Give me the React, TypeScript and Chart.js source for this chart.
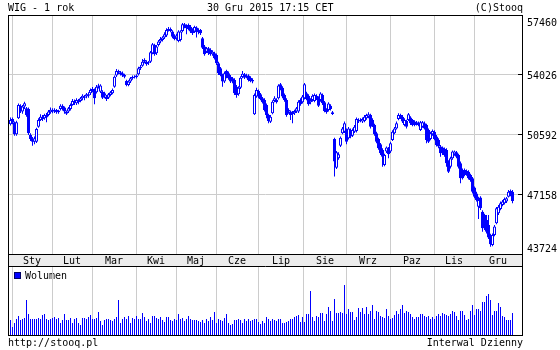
import { useEffect, useRef } from "react";
import { Chart, registerables } from "chart.js";
Chart.register(...registerables);

const title = "WIG - 1 rok";
const dateText = "30 Gru 2015 17:15 CET";
const copyright = "(C)Stooq";
const footerLeft = "http://stooq.pl";
const footerRight = "Interwal Dzienny";
const volumeLabel = "Wolumen";
const monthLabels = ["Sty", "Lut", "Mar", "Kwi", "Maj", "Cze", "Lip", "Sie", "Wrz", "Paz", "Lis", "Gru"];
// index of the first trading day of each month (index 0 = 30 Dec 2014)
const monthStarts = [1, 21, 41, 63, 83, 103, 124, 147, 168, 190, 212, 232];
const yTickValues = [57460, 54026, 50592, 47158, 43724];

const opens = [
  51160,51470,51280,50590,51510,52230,51890,52180,52080,52040,
  50550,50320,50170,50170,51030,51410,51600,51510,51700,51700,
  51850,52000,51890,51980,51850,52040,52230,52120,51890,51890,
  52040,52270,52500,52370,52500,52500,52650,52750,52750,52880,
  52940,53190,53130,53000,53320,53030,53030,52940,52750,52690,
  52840,52940,53320,53950,54220,54140,54080,53990,53640,53420,
  53610,53800,53870,53850,54030,54370,54520,54750,54750,54660,
  54750,55230,55700,55230,55700,55900,55990,56130,56240,56560,
  56620,56470,56240,56090,55930,55990,56510,56890,56810,56850,
  56750,56560,56470,56700,56560,56560,56090,55610,55320,55510,
  55420,55170,55230,55130,54660,54370,53990,53610,54220,54080,
  53890,53800,53700,53320,52880,53260,53870,54030,53890,53950,
  53830,53700,51740,52750,53070,52880,52650,52560,52270,51700,
  51310,51790,52500,52560,52650,53450,53260,52840,52560,51890,
  51890,51850,51790,51890,51890,52560,52420,52650,52940,52800,
  52420,52560,52500,52800,52690,52560,52840,52420,51980,51980,
  52230,51850,50320,48680,49220,49940,50650,50740,50840,50360,
  50840,50510,50740,50780,51410,51350,51320,51350,51510,51600,
  51700,51410,51130,50650,50320,50020,49690,48840,49600,49790,
  49600,50270,50650,50930,51470,51700,51600,51130,51350,51410,
  51550,51410,51320,51280,51220,50840,51030,51220,51130,50840,
  50320,50590,50740,50460,50270,49890,49830,49750,49690,49030,
  48740,49220,49450,49560,49410,48930,48550,48550,48490,48450,
  48260,48070,47540,47210,46450,46970,46160,45970,45690,45400,
  44830,44260,44830,45500,46070,46320,46550,46640,46740,47020,
  47350,47310,
];
const closes = [
  51410,51280,50590,51280,52270,51890,52180,52370,51700,50650,
  50320,50170,50360,50900,51410,51600,51470,51700,51550,51890,
  52000,51890,51980,51850,51960,52230,52080,51890,51770,52080,
  52270,52500,52370,52560,52420,52650,52800,52690,52880,52800,
  53130,53110,52650,53320,53380,53380,52690,52800,52610,52880,
  53000,53130,53890,54220,54140,54030,53950,53890,53420,53610,
  53800,53870,53890,53950,54370,54460,54750,54850,54600,54710,
  55290,55740,55170,55610,55900,56050,56130,56320,56560,56620,
  56510,56180,56050,56240,56470,56470,56890,56730,56660,56620,
  56470,56370,56730,56430,56430,56370,55550,55170,55510,55230,
  55170,55320,54940,54660,54080,53990,53610,54080,53890,53800,
  53610,53610,52940,52840,53260,53830,54060,53830,53950,53700,
  53640,53610,52840,53130,52750,52610,52420,51980,51700,51350,
  51600,52460,52650,52420,53380,53190,52750,52560,51700,51980,
  51700,51740,51930,52080,52460,52310,52750,53450,52610,52310,
  52560,52800,52840,52650,52230,52920,52370,51930,51850,52350,
  52040,51760,49030,49560,49450,50400,50930,51220,50170,50930,
  50460,50840,51030,51470,51320,51430,51470,51600,51700,51740,
  51030,51090,50590,50170,49790,49500,49310,49410,49830,49450,
  50080,50740,50930,51220,51700,51550,51320,51410,51030,51740,
  51220,51130,51130,51160,51130,51280,51280,50930,50270,50170,
  50650,50780,50320,49980,49890,49500,49500,49410,48930,48450,
  49220,49600,49600,49310,48740,48070,48070,48260,48300,48070,
  47980,47310,47020,46830,46830,46360,45210,45210,45020,44680,
  44300,44830,45310,46360,46450,46640,46740,46890,46930,47310,
  47120,46780,
];
const highs = [
  51550,51550,51330,51360,52350,52310,52270,52460,52160,52120,
  50650,50440,50470,50970,51510,51740,51700,51770,51810,51980,
  52120,52080,52080,52040,52000,52310,52310,52180,51960,52160,
  52350,52610,52580,52650,52610,52730,52880,52840,52960,53000,
  53220,53300,53220,53420,53490,53450,53110,53030,52840,52960,
  53070,53220,53950,54330,54290,54220,54180,54060,53720,53680,
  53870,53950,53970,54030,54460,54560,54900,54940,54830,54790,
  55360,55820,55780,55700,55990,56160,56200,56430,56660,56730,
  56700,56540,56320,56350,56540,56540,56960,56960,56890,56930,
  56850,56660,56810,56770,56660,56620,56160,55700,55590,55590,
  55510,55400,55320,55210,54750,54450,54060,54180,54290,54180,
  53990,53870,53800,53420,53340,53910,54220,54100,54060,54030,
  53910,53800,52920,53260,53150,52960,52730,52650,52350,51770,
  51700,52540,52770,52650,53450,53530,53340,52920,52650,52080,
  51960,51930,52000,52160,52540,52650,52840,53530,53030,52880,
  52650,52880,52920,52880,52770,53000,52920,52500,52080,52420,
  52310,51930,50400,49640,49560,50470,51010,51320,50930,51010,
  50930,50930,51130,51550,51510,51510,51550,51700,51770,51850,
  51770,51510,51200,50740,50400,50090,49790,49480,49900,49870,
  50170,50820,51010,51320,51790,51770,51700,51510,51430,51810,
  51620,51470,51390,51350,51320,51350,51350,51320,51200,50930,
  50740,50860,50820,50550,50360,49980,49900,49830,49790,49100,
  49300,49670,49670,49640,49480,49030,48640,48640,48570,48530,
  48340,48150,47610,47310,47020,47040,46240,46050,45970,45970,
  44900,44920,45400,46430,46550,46740,46830,46970,47000,47400,
  47430,47400,
];
const lows = [
  51090,51160,50510,50510,51470,51810,51770,52040,51600,50550,
  50210,49940,50020,50100,50970,51350,51350,51430,51280,51620,
  51770,51790,51810,51770,51770,51960,51960,51770,51700,51810,
  51960,52230,52270,52270,52310,52420,52540,52540,52650,52690,
  52840,53000,52310,52920,53220,52960,52610,52650,52500,52610,
  52770,52880,53260,53870,54030,53950,53870,53800,53340,53340,
  53530,53720,53780,53780,53950,54270,54460,54660,54520,54560,
  54670,55170,55090,55130,55610,55800,55900,56050,56160,56470,
  56430,56090,55970,55970,55860,55900,56430,56660,56320,56540,
  56390,56280,56390,56130,56320,56280,55480,55090,55250,55130,
  55090,55090,54870,54560,53990,53910,53320,53530,53800,53720,
  53530,53510,52840,52690,52800,53190,53800,53760,53800,53610,
  53570,53510,51700,52690,52650,52540,52350,51890,51510,51220,
  51240,51740,52420,52350,52580,53110,52650,52460,51600,51770,
  51410,51220,51700,51810,51810,52230,52350,52580,52540,52230,
  52310,52460,52420,52560,52160,52460,52270,51850,51770,51890,
  51960,51700,48170,48610,49140,49860,50590,50670,50020,50290,
  50360,50440,50670,50700,51240,51280,51240,51280,51430,51510,
  50930,51010,50510,50080,49700,49410,48740,48760,49520,49220,
  49520,50210,50590,50860,51390,51470,51240,51050,50930,51350,
  51130,51050,51050,51090,51050,50780,50970,50860,50080,50100,
  50250,50510,50250,49900,49790,49310,49410,49310,48740,48380,
  48640,49140,49370,49220,48640,47790,48000,48190,48220,48000,
  47880,47210,46930,46740,45740,46260,45020,45110,44920,44600,
  44160,44180,44750,45440,45970,46240,46470,46580,46660,46970,
  47040,46640,
];
const volumes = [
  600,320,480,640,760,600,640,680,1400,840,
  640,640,640,640,680,640,800,840,640,600,
  640,680,720,640,680,480,600,840,600,600,
  680,480,640,680,480,400,680,680,640,720,
  800,640,640,680,920,560,400,600,640,640,
  600,560,640,720,1400,480,640,720,640,760,
  480,680,640,760,640,640,880,720,560,640,
  480,760,760,680,640,720,600,520,720,720,
  600,560,640,600,840,640,680,560,640,760,
  640,600,600,600,560,520,600,480,640,560,
  720,600,920,480,640,600,560,680,840,480,
  400,440,600,600,640,600,480,640,560,640,
  560,600,640,640,520,440,560,480,720,640,
  560,640,600,560,
  640,640,480,480,520,560,640,640,720,760,800,
  520,720,520,840,840,1760,720,560,760,720,
  880,880,560,840,1120,960,560,1440,880,880,
  920,880,2000,840,1040,920,920,600,720,1080,
  920,1080,840,1120,840,960,1200,640,960,920,
  760,720,680,1040,760,640,680,800,960,840,
  1040,1200,880,960,920,840,720,640,720,720,
  840,840,760,720,760,640,720,640,760,840,
  760,880,840,800,760,840,960,920,760,600,
  960,960,800,600,640,960,1200,800,1040,1040,
  960,1320,1320,1560,1640,1400,800,960,960,1280,
  1120,760,720,600,600,600,880,
];

const BLUE = "#0000ff";
const GRID = "#cccccc";
const FONT = '10px "DejaVu Sans Mono"';
const X_MIN = -1.25;
const X_MAX = 256.25;
const Y_MIN = 43740;
const Y_MAX = 57420;
const VOL_MAX = 2720;

function makeX() {
  return {
    type: "linear" as const,
    min: X_MIN,
    max: X_MAX,
    offset: false,
    afterBuildTicks: (axis: any) => {
      axis.ticks = monthStarts.map((s) => ({ value: s - 0.25 }));
    },
    ticks: { display: false },
    grid: { color: GRID, lineWidth: 1, drawTicks: false, offset: false },
    border: { display: false },
    afterFit: (axis: any) => {
      axis.height = 0;
    },
  };
}

const framePlugin = {
  id: "stooqFrame",
  afterDraw(chart: any) {
    const ctx = chart.ctx;
    const { left, right, top, bottom } = chart.chartArea;
    const xs = chart.scales.x;
    const ys = chart.scales.y;
    ctx.save();
    ctx.font = FONT;
    ctx.fillStyle = "#000";
    ctx.textBaseline = "alphabetic";
    ctx.textAlign = "left";
    ctx.fillText(title, 8, 11);
    ctx.fillText(dateText, 207, 11);
    ctx.textAlign = "right";
    ctx.fillText(copyright, 523, 11);
    ctx.textAlign = "left";
    ctx.fillText(footerLeft, 8, 346);
    ctx.textAlign = "right";
    ctx.fillText(footerRight, 523, 346);

    // month band
    ctx.fillStyle = "#ececec";
    ctx.fillRect(left + 1, bottom + 1, right - left - 2, 11);
    ctx.strokeStyle = "#000";
    ctx.lineWidth = 1;
    ctx.strokeRect(left + 0.5, top + 0.5, right - left - 1, bottom - top);
    ctx.beginPath();
    ctx.moveTo(left, bottom + 12.5);
    ctx.lineTo(right, bottom + 12.5);
    ctx.moveTo(left + 0.5, bottom);
    ctx.lineTo(left + 0.5, 336);
    ctx.moveTo(right - 0.5, bottom);
    ctx.lineTo(right - 0.5, 336);
    ctx.moveTo(left, 335.5);
    ctx.lineTo(right, 335.5);
    ctx.stroke();

    ctx.fillStyle = "#000";
    ctx.textAlign = "center";
    const bounds = monthStarts.map((s) => s - 0.5);
    monthLabels.forEach((lab, k) => {
      const a = bounds[k];
      const b = k + 1 < bounds.length ? bounds[k + 1] : X_MAX;
      ctx.fillText(lab, Math.round(xs.getPixelForValue((a + b) / 2)), bottom + 10);
    });

    // y labels and inward tick marks
    ctx.textAlign = "left";
    yTickValues.forEach((v) => {
      if (v > Y_MAX) {
        ctx.fillText(String(v), right + 4, top + 11);
      } else if (v < Y_MIN) {
        ctx.fillText(String(v), right + 4, bottom - 2);
      } else {
        const py = Math.round(ys.getPixelForValue(v) - 0.5) + 0.5;
        ctx.beginPath();
        ctx.moveTo(right - 5, py);
        ctx.lineTo(right - 1, py);
        ctx.stroke();
        ctx.fillText(String(v), right + 4, py + 4.5);
      }
    });

    // volume legend
    ctx.fillStyle = BLUE;
    ctx.fillRect(14, 272, 7, 7);
    ctx.strokeStyle = "#000066";
    ctx.strokeRect(14.5, 272.5, 6, 6);
    ctx.fillStyle = "#000";
    ctx.textAlign = "left";
    ctx.fillText(volumeLabel, 25, 279);
    ctx.restore();
  },
};

export default function App() {
  const priceRef = useRef<HTMLCanvasElement>(null);
  const volRef = useRef<HTMLCanvasElement>(null);

  useEffect(() => {
    document.body.style.margin = "0";
    const bodies = opens.map((o, i) => ({ x: i, y: [Math.min(o, closes[i]), Math.max(o, closes[i])] }));
    const bodyColors = opens.map((o, i) => (closes[i] >= o ? "#ffffff" : BLUE));
    const wicks = lows.map((l, i) => ({ x: i, y: [l, highs[i]] }));

    const priceChart = new Chart(priceRef.current as HTMLCanvasElement, {
      type: "bar",
      data: {
        datasets: [
          {
            data: bodies as any,
            backgroundColor: bodyColors,
            borderColor: BLUE,
            borderWidth: 1,
            borderSkipped: false,
            grouped: false,
            barPercentage: 1.5,
            categoryPercentage: 1,
            inflateAmount: 0,
            order: 0,
          } as any,
          {
            data: wicks as any,
            backgroundColor: BLUE,
            borderWidth: 0,
            grouped: false,
            barPercentage: 0.5,
            categoryPercentage: 1,
            inflateAmount: 0,
            order: 1,
          } as any,
        ],
      },
      options: {
        responsive: false,
        animation: false,
        devicePixelRatio: 1,
        events: [],
        layout: { padding: { left: 8, top: 15, right: 0, bottom: 96 } },
        plugins: { legend: { display: false }, tooltip: { enabled: false } },
        scales: {
          x: makeX() as any,
          y: {
            type: "linear",
            position: "right",
            min: Y_MIN,
            max: Y_MAX,
            afterBuildTicks: (axis: any) => {
              axis.ticks = yTickValues.filter((v) => v > Y_MIN && v < Y_MAX).map((v) => ({ value: v }));
            },
            ticks: { display: false },
            grid: { color: GRID, lineWidth: 1, drawTicks: false },
            border: { display: false },
            afterFit: (axis: any) => {
              axis.width = 37;
            },
          } as any,
        },
      },
      plugins: [framePlugin],
    });

    const volChart = new Chart(volRef.current as HTMLCanvasElement, {
      type: "bar",
      data: {
        datasets: [
          {
            data: volumes.map((v, i) => ({ x: i, y: v })) as any,
            backgroundColor: BLUE,
            borderColor: BLUE,
            borderWidth: 0,
            barThickness: 1,
            inflateAmount: 0,
          } as any,
        ],
      },
      options: {
        responsive: false,
        animation: false,
        devicePixelRatio: 1,
        events: [],
        layout: { padding: { left: 8, top: 267, right: 37, bottom: 15 } },
        plugins: { legend: { display: false }, tooltip: { enabled: false } },
        scales: {
          x: makeX() as any,
          y: { type: "linear", display: false, min: 0, max: VOL_MAX } as any,
        },
      },
    });

    return () => {
      priceChart.destroy();
      volChart.destroy();
    };
  }, []);

  return (
    <div style={{ position: "relative", width: 560, height: 350, background: "#ffffff" }}>
      <canvas ref={priceRef} width={560} height={350} style={{ position: "absolute", left: 0, top: 0 }} />
      <canvas ref={volRef} width={560} height={350} style={{ position: "absolute", left: 0, top: 0 }} />
    </div>
  );
}
